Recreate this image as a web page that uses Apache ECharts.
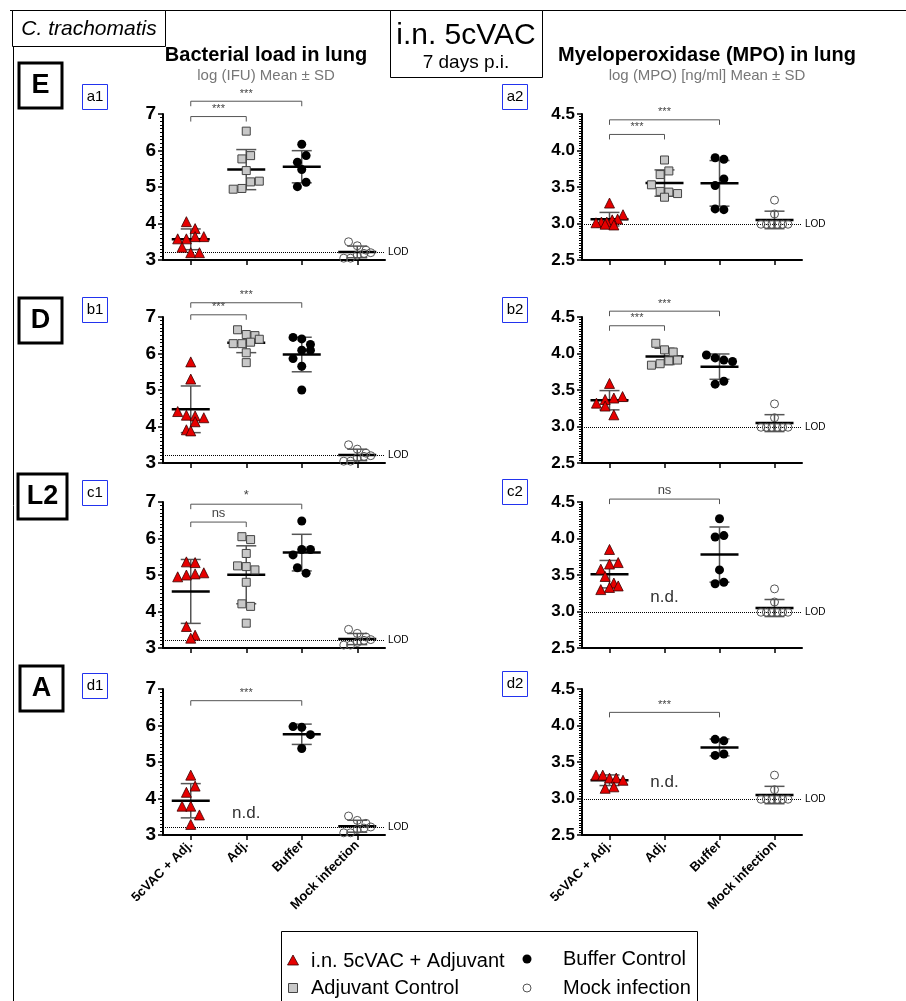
<!DOCTYPE html>
<html><head><meta charset="utf-8">
<script src="https://cdn.jsdelivr.net/npm/echarts@6/dist/echarts.min.js"></script>
<style>html,body{margin:0;padding:0;background:#fff}#c{width:906px;height:1001px}</style>
</head><body><div id="c"></div>
<script>
// ---------- DATA ----------
const categories = ['5cVAC + Adj.', 'Adj.', 'Buffer', 'Mock infection'];
const legendNames = ['i.n. 5cVAC + Adjuvant', 'Adjuvant Control', 'Buffer Control', 'Mock infection'];
const ifuTicks = [3, 4, 5, 6, 7];
const mpoTicks = [2.5, 3.0, 3.5, 4.0, 4.5];
const lodIFU = 3.22;
const lodMPO = 2.99;

// Row E
const E_ifu_vac  = [4.05, 3.86, 3.64, 3.58, 3.58, 3.64, 3.35, 3.2, 3.2];
const E_ifu_adj  = [6.53, 5.86, 5.77, 5.45, 5.16, 5.14, 4.96, 4.94];
const E_ifu_buf  = [6.17, 5.86, 5.68, 5.48, 5.13, 5.01];
const E_ifu_mock = [3.5, 3.39, 3.27, 3.2, 3.18, 3.13, 3.05, 3.05];
const E_ifu_sig  = [[0, 2, 7.35, '***'], [0, 1, 6.93, '***']];
const E_mpo_vac  = [3.28, 3.12, 3.06, 3.05, 3.02, 3.02, 3.01, 2.99, 2.98];
const E_mpo_adj  = [3.87, 3.72, 3.67, 3.53, 3.44, 3.43, 3.41, 3.36];
const E_mpo_buf  = [3.90, 3.88, 3.61, 3.52, 3.20, 3.19];
const E_mpo_mock = [3.32, 3.13, 2.99, 2.99, 2.99, 2.99, 2.99, 2.99];
const E_mpo_sig  = [[0, 2, 4.42, '***'], [0, 1, 4.22, '***']];
// Row D
const D_ifu_vac  = [5.77, 5.30, 4.41, 4.31, 4.29, 4.24, 4.13, 3.91, 3.88];
const D_ifu_adj  = [6.65, 6.52, 6.49, 6.39, 6.31, 6.27, 6.27, 6.02, 5.75];
const D_ifu_buf  = [6.44, 6.40, 6.25, 6.09, 6.09, 5.86, 5.65, 5.00];
const D_ifu_mock = [3.5, 3.38, 3.27, 3.2, 3.18, 3.14, 3.05, 3.05];
const D_ifu_sig  = [[0, 2, 7.39, '***'], [0, 1, 7.06, '***']];
const D_mpo_vac  = [3.59, 3.41, 3.39, 3.37, 3.32, 3.28, 3.16];
const D_mpo_adj  = [4.14, 4.05, 4.02, 3.91, 3.90, 3.86, 3.84];
const D_mpo_buf  = [3.98, 3.94, 3.91, 3.89, 3.62, 3.58];
const D_mpo_mock = [3.31, 3.12, 2.99, 2.99, 2.99, 2.99, 2.99, 2.99];
const D_mpo_sig  = [[0, 2, 4.58, '***'], [0, 1, 4.38, '***']];
// Row L2
const L2_ifu_vac  = [5.36, 5.34, 5.06, 5.03, 5.00, 4.95, 3.59, 3.35, 3.27];
const L2_ifu_adj  = [6.05, 5.97, 5.59, 5.25, 5.23, 5.14, 4.80, 4.21, 4.14, 3.68];
const L2_ifu_buf  = [6.48, 5.70, 5.70, 5.55, 5.20, 5.05];
const L2_ifu_mock = [3.51, 3.40, 3.30, 3.23, 3.21, 3.15, 3.08, 3.08];
const L2_ifu_sig  = [[0, 2, 6.94, '*'], [0, 1, 6.45, 'ns']];
const L2_mpo_vac  = [3.85, 3.67, 3.65, 3.58, 3.48, 3.39, 3.35, 3.33, 3.30];
const L2_mpo_adj  = [];
const L2_mpo_buf  = [4.27, 4.04, 4.02, 3.57, 3.40, 3.38];
const L2_mpo_mock = [3.31, 3.13, 2.99, 2.99, 2.99, 2.99, 2.99, 2.99];
const L2_mpo_sig  = [[0, 2, 4.54, 'ns']];
const L2_mpo_nd   = [1, 3.2];
// Row A
const A_ifu_vac  = [4.64, 4.34, 4.17, 3.79, 3.79, 3.55, 3.29];
const A_ifu_adj  = [];
const A_ifu_buf  = [5.97, 5.95, 5.75, 5.37];
const A_ifu_mock = [3.52, 3.40, 3.32, 3.22, 3.19, 3.15, 3.06, 3.06];
const A_ifu_sig  = [[0, 2, 6.68, '***']];
const A_ifu_nd   = [1, 3.6];
const A_mpo_vac  = [3.32, 3.32, 3.28, 3.28, 3.25, 3.16, 3.14];
const A_mpo_adj  = [];
const A_mpo_buf  = [3.81, 3.79, 3.61, 3.59];
const A_mpo_mock = [3.32, 3.12, 2.99, 2.99, 2.99, 2.99, 2.99, 2.99];
const A_mpo_sig  = [[0, 2, 4.18, '***']];
const A_mpo_nd   = [1, 3.22];

const panels = [
  {kind:'ifu', row:0, groups:[E_ifu_vac, E_ifu_adj, E_ifu_buf, E_ifu_mock], sig:E_ifu_sig, nd:null},
  {kind:'mpo', row:0, groups:[E_mpo_vac, E_mpo_adj, E_mpo_buf, E_mpo_mock], sig:E_mpo_sig, nd:null},
  {kind:'ifu', row:1, groups:[D_ifu_vac, D_ifu_adj, D_ifu_buf, D_ifu_mock], sig:D_ifu_sig, nd:null},
  {kind:'mpo', row:1, groups:[D_mpo_vac, D_mpo_adj, D_mpo_buf, D_mpo_mock], sig:D_mpo_sig, nd:null},
  {kind:'ifu', row:2, groups:[L2_ifu_vac, L2_ifu_adj, L2_ifu_buf, L2_ifu_mock], sig:L2_ifu_sig, nd:null},
  {kind:'mpo', row:2, groups:[L2_mpo_vac, L2_mpo_adj, L2_mpo_buf, L2_mpo_mock], sig:L2_mpo_sig, nd:L2_mpo_nd},
  {kind:'ifu', row:3, groups:[A_ifu_vac, A_ifu_adj, A_ifu_buf, A_ifu_mock], sig:A_ifu_sig, nd:A_ifu_nd},
  {kind:'mpo', row:3, groups:[A_mpo_vac, A_mpo_adj, A_mpo_buf, A_mpo_mock], sig:A_mpo_sig, nd:A_mpo_nd}
];

// ---------- LAYOUT / STYLE ----------
const rowTops = [114, 317, 502, 689];
const gridH = 146;
const colGeom = {ifu:{left:163, width:222}, mpo:{left:582, width:220}};
const FONT = 'Liberation Sans, Arial, sans-serif';
const NARROW = '"Liberation Sans Narrow", "Liberation Sans", Arial, sans-serif';
const groupStyle = [
  {symbol:'triangle', size:10, color:'#e60000', border:'#3a0000', bw:0.8},
  {symbol:'rect', size:8, color:'#c8c8c8', border:'#444', bw:1},
  {symbol:'circle', size:9, color:'#000', border:'#000', bw:0},
  {symbol:'circle', size:8, color:'rgba(255,255,255,0)', border:'#555', bw:1}
];

function mean(a){return a.reduce((s,v)=>s+v,0)/a.length;}
function sd(a){const m=mean(a);return Math.sqrt(a.reduce((s,v)=>s+(v-m)*(v-m),0)/(a.length-1));}
// GraphPad-like row layout: points closer than one marker height share a row and are centred side by side
function swarm(values, pxPerUnit){
  const rowTol=9, step=8.7, maxSpan=27;
  const idx=values.map((v,i)=>i).sort((a,b)=>values[b]-values[a]);
  const offs=new Array(values.length).fill(0);
  let k=0, rowNo=0;
  while(k<idx.length){
    const startY=values[idx[k]]*pxPerUnit; const row=[idx[k]]; k++;
    while(k<idx.length && startY-values[idx[k]]*pxPerUnit<rowTol){row.push(idx[k]);k++;}
    const n=row.length; const d=n>1?Math.min(step,maxSpan/(n-1)):0;
    const dir = rowNo%2===0 ? 1 : -1;
    row.forEach((ii,j)=>{offs[ii]=dir*(j-(n-1)/2)*d;});
    rowNo++;
  }
  return offs;
}

const grids=[], xAxes=[], yAxes=[], series=[];
panels.forEach((p,i)=>{
  const g=colGeom[p.kind];
  grids.push({left:g.left, top:rowTops[p.row], width:g.width, height:gridH});
  const bottom = p.row===3;
  xAxes.push({gridIndex:i, type:'category', data:categories, boundaryGap:true,
    axisLine:{show:true,onZero:false,lineStyle:{color:'#000',width:2}},
    axisTick:{show:true,alignWithLabel:true,length:5,lineStyle:{color:'#000',width:1.5}},
    axisLabel:{show:bottom, interval:0, rotate:45, fontWeight:'bold', fontSize:13, color:'#000', fontFamily:FONT, margin:8},
    splitLine:{show:false}});
  const isIfu = p.kind==='ifu';
  const ticks = isIfu?ifuTicks:mpoTicks;
  yAxes.push({gridIndex:i, type:'value', min:ticks[0], max:ticks[ticks.length-1], interval:ticks[1]-ticks[0],
    axisLine:{show:true,lineStyle:{color:'#000',width:2}},
    axisTick:{show:true,length:5,lineStyle:{color:'#000',width:1.5}},
    minorTick:{show:true,splitNumber:isIfu?10:15,length:3,lineStyle:{color:'#000',width:1}},
    splitLine:{show:false}, minorSplitLine:{show:false},
    axisLabel:{color:'#000',fontWeight:'bold',fontSize:isIfu?19:17,fontFamily:FONT,margin:7,
      formatter:v=>isIfu?String(v):v.toFixed(1)}});
  const pxPerUnit = gridH/(ticks[ticks.length-1]-ticks[0]);
  const msData=[];
  p.groups.forEach((vals,gi)=>{
    if(!vals.length) return;
    const st=groupStyle[gi];
    const offs=swarm(vals,pxPerUnit);
    const s={type:'scatter', xAxisIndex:i, yAxisIndex:i, z:5, symbol:st.symbol, symbolSize:st.size,
      itemStyle:{color:st.color,borderColor:st.border,borderWidth:st.bw,opacity:1},
      data:vals.map((v,k)=>({value:[gi,v],symbolOffset:[offs[k],0]})), silent:true};
    if(gi===3){
      s.markLine={silent:true,symbol:['none','none'],animation:false,
        lineStyle:{type:'dotted',color:'#000',width:1},
        label:{show:true,position:'end',formatter:'LOD',fontSize:10,color:'#000',fontFamily:FONT,distance:3},
        data:[{yAxis:isIfu?lodIFU:lodMPO}]};
    }
    series.push(s);
    msData.push([gi, mean(vals), sd(vals)]);
  });
  series.push({type:'custom', xAxisIndex:i, yAxisIndex:i, z:3, clip:false, silent:true, data:msData,
    renderItem:(params,api)=>{
      const x=api.value(0), m=api.value(1), s=api.value(2);
      const c=api.coord([x,m]), t=api.coord([x,m+s]), b=api.coord([x,m-s]);
      const capW=10, meanW=19, sty={stroke:'#555',lineWidth:1.5};
      return {type:'group',children:[
        {type:'line',shape:{x1:c[0],y1:t[1],x2:c[0],y2:b[1]},style:sty},
        {type:'line',shape:{x1:c[0]-capW,y1:t[1],x2:c[0]+capW,y2:t[1]},style:sty},
        {type:'line',shape:{x1:c[0]-capW,y1:b[1],x2:c[0]+capW,y2:b[1]},style:sty},
        {type:'line',shape:{x1:c[0]-meanW,y1:c[1],x2:c[0]+meanW,y2:c[1]},style:{stroke:'#000',lineWidth:2.5}}
      ]};
    }});
  const sig=p.sig;
  series.push({type:'custom', xAxisIndex:i, yAxisIndex:i, z:4, clip:false, silent:true,
    data:sig.map(s=>[s[0],s[2]]),
    renderItem:(params,api)=>{
      const s=sig[params.dataIndex];
      const a=api.coord([s[0],s[2]]), b=api.coord([s[1],s[2]]);
      const sty={stroke:'#555',lineWidth:1};
      const fs = s[3]==='ns'?13:(s[3]==='*'?13:11);
      return {type:'group',children:[
        {type:'line',shape:{x1:a[0],y1:a[1],x2:b[0],y2:a[1]},style:sty},
        {type:'line',shape:{x1:a[0],y1:a[1],x2:a[0],y2:a[1]+5},style:sty},
        {type:'line',shape:{x1:b[0],y1:a[1],x2:b[0],y2:a[1]+5},style:sty},
        {type:'text',style:{text:s[3],x:(a[0]+b[0])/2,y:a[1]-2,align:'center',textAlign:'center',
          verticalAlign:'bottom',textVerticalAlign:'bottom',fontSize:fs,fontFamily:FONT,fill:'#444'}}
      ]};
    }});
  if(p.nd){
    const nd=p.nd;
    series.push({type:'custom', xAxisIndex:i, yAxisIndex:i, z:4, clip:false, silent:true, data:[nd],
      renderItem:(params,api)=>{
        const c=api.coord([nd[0],nd[1]]);
        return {type:'text',style:{text:'n.d.',x:c[0],y:c[1],align:'center',textAlign:'center',
          verticalAlign:'middle',textVerticalAlign:'middle',fontSize:17,fontFamily:FONT,fill:'#333'}};
      }});
  }
});

// ---------- GRAPHIC DECORATION ----------
function txt(x,y,t,font,fill,align){return {type:'text',silent:true,style:{text:t,x:x,y:y,font:font,fill:fill||'#000',
  align:align||'center',textAlign:align||'center',verticalAlign:'middle',textVerticalAlign:'middle'}};}
function rect(x,y,w,h,stroke,lw){return {type:'rect',silent:true,shape:{x:x,y:y,width:w,height:h},style:{fill:'#fff',stroke:stroke,lineWidth:lw}};}
const graphics=[
  {type:'line',silent:true,shape:{x1:10,y1:10.5,x2:906,y2:10.5},style:{stroke:'#000',lineWidth:1}},
  {type:'line',silent:true,shape:{x1:13.5,y1:10,x2:13.5,y2:1001},style:{stroke:'#000',lineWidth:1}},
  rect(12.5,10.5,153,36,'#000',1), txt(89,29,'C. trachomatis','italic 21px '+NARROW),
  rect(390.5,10.5,152,67,'#000',1), txt(466,36,'i.n. 5cVAC','30px '+NARROW), txt(466,63,'7 days p.i.','19px '+NARROW),
  txt(266,55,'Bacterial load in lung','bold 20px '+NARROW), txt(266,76,'log (IFU) Mean \u00b1 SD','15px '+NARROW,'#777'),
  txt(707,55,'Myeloperoxidase (MPO) in lung','bold 20px '+NARROW), txt(707,76,'log (MPO) [ng/ml] Mean \u00b1 SD','15px '+NARROW,'#777')
];
const rowLetters=[['E',19,63,43],['D',19,298,43],['L2',18,474,49],['A',20,666,43]];
rowLetters.forEach(r=>{graphics.push(rect(r[1],r[2],r[3],45,'#000',3)); graphics.push(txt(r[1]+r[3]/2,r[2]+23,r[0],'bold 27px '+FONT));});
const panelLabels=[['a1',82,84],['b1',82,297],['c1',82,480],['d1',82,673],['a2',502,84],['b2',502,297],['c2',502,479],['d2',502,671]];
panelLabels.forEach(l=>{graphics.push(rect(l[1]+0.5,l[2]+0.5,25,25,'#2233ee',1)); graphics.push(txt(l[1]+13,l[2]+13,l[0],'15px '+FONT));});
// legend
graphics.push(rect(281.5,931.5,416,90,'#000',1));
const legY=[961,988];
graphics.push({type:'polygon',silent:true,shape:{points:[[293,955],[287.5,965],[298.5,965]]},style:{fill:'#e60000',stroke:'#3a0000',lineWidth:0.8}});
graphics.push({type:'rect',silent:true,shape:{x:288.5,y:983.5,width:9,height:9},style:{fill:'#c8c8c8',stroke:'#444',lineWidth:1}});
graphics.push({type:'circle',silent:true,shape:{cx:527,cy:959,r:4.5},style:{fill:'#000'}});
graphics.push({type:'circle',silent:true,shape:{cx:527,cy:988,r:4},style:{fill:'#fff',stroke:'#555',lineWidth:1}});
graphics.push(txt(311,legY[0],legendNames[0],'20px '+FONT,'#000','left'));
graphics.push(txt(311,legY[1],legendNames[1],'20px '+FONT,'#000','left'));
graphics.push(txt(563,959,legendNames[2],'20px '+FONT,'#000','left'));
graphics.push(txt(563,legY[1],legendNames[3],'20px '+FONT,'#000','left'));

const chart=echarts.init(document.getElementById('c'),null,{renderer:'canvas'});
chart.setOption({backgroundColor:'#fff',animation:false,grid:grids,xAxis:xAxes,yAxis:yAxes,series:series,graphic:graphics});
</script></body></html>
